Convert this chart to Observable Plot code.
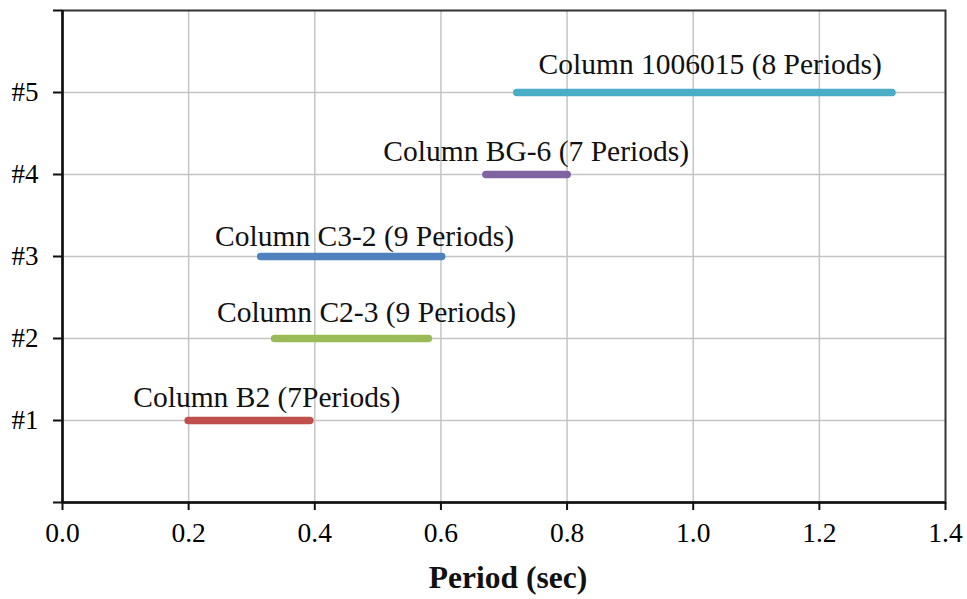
<!DOCTYPE html>
<html>
<head>
<meta charset="utf-8">
<script src="https://cdn.jsdelivr.net/npm/d3@7"></script>
<script src="https://cdn.jsdelivr.net/npm/@observablehq/plot@0.6"></script>
<style>
  html, body { margin: 0; padding: 0; background: #fff; }
  #chart svg { font-family: "Liberation Serif", "DejaVu Serif", serif; }
</style>
</head>
<body>
<div id="chart"></div>
<script>
// Data
const columnNames = [
  "Column B2 (7Periods)",
  "Column C2-3 (9 Periods)",
  "Column C3-2 (9 Periods)",
  "Column BG-6 (7 Periods)",
  "Column 1006015 (8 Periods)"
];
const levels = [1, 2, 3, 4, 5];
const periodStart = [0.200, 0.337, 0.315, 0.672, 0.721];
const periodEnd = [0.393, 0.581, 0.602, 0.801, 1.316];
const labelCenter = [0.324, 0.482, 0.479, 0.751, 1.027];
const labelLevel = [1.16, 2.20, 3.13, 4.16, 5.22];
const levelLabels = ["#1", "#2", "#3", "#4", "#5"];
const xTicks = [0, 0.2, 0.4, 0.6, 0.8, 1.0, 1.2, 1.4];
const yTicks = [0, 1, 2, 3, 4, 5, 6];
const seriesColors = ["#C0504D", "#9BBB59", "#4F81BD", "#8064A2", "#4BACC6"];
const xTitle = "Period (sec)";

const data = columnNames.map((name, i) => ({
  name,
  level: levels[i],
  start: periodStart[i],
  end: periodEnd[i],
  labelX: labelCenter[i],
  labelY: labelLevel[i]
}));

const chart = Plot.plot({
  width: 967,
  height: 599,
  marginLeft: 62,
  marginRight: 22,
  marginTop: 10,
  marginBottom: 97,
  x: {domain: [0, 1.4]},
  y: {domain: [0, 6]},
  color: {domain: columnNames, range: seriesColors},
  marks: [
    Plot.gridX(xTicks.filter(t => t > 0 && t < 1.4), {stroke: "#c4c4c4", strokeOpacity: 1, strokeWidth: 1.5}),
    Plot.gridY(yTicks.filter(t => t > 0 && t < 6), {stroke: "#c4c4c4", strokeOpacity: 1, strokeWidth: 1.5}),
    Plot.frame({stroke: "#333", strokeWidth: 2}),
    Plot.ruleX([0], {stroke: "#111", strokeWidth: 2.5}),
    Plot.ruleY([0], {stroke: "#111", strokeWidth: 2.5}),
    Plot.axisX({
      ticks: xTicks,
      tickFormat: d3.format(".1f"),
      tickSize: 8,
      tickPadding: 12,
      fontSize: 27.5,
      stroke: "#111",
      strokeWidth: 2,
      label: null
    }),
    Plot.axisY({
      ticks: yTicks,
      tickFormat: d => (d >= 1 && d <= 5) ? levelLabels[d - 1] : "",
      tickSize: 9,
      tickPadding: 15,
      fontSize: 27,
      stroke: "#111",
      strokeWidth: 2,
      label: null
    }),
    Plot.ruleY(data, {
      y: "level",
      x1: "start",
      x2: "end",
      stroke: "name",
      strokeWidth: 7.5,
      strokeLinecap: "round"
    }),
    Plot.text(data, {
      x: "labelX",
      y: "labelY",
      text: "name",
      lineAnchor: "bottom",
      fontSize: 29.5,
      fill: "#111"
    }),
    Plot.text([xTitle], {
      text: d => d,
      frameAnchor: "bottom",
      lineAnchor: "bottom",
      dy: 85,
      dx: 4,
      fontSize: 31.5,
      fontWeight: "bold",
      fill: "#111"
    })
  ]
});

document.getElementById("chart").append(chart);
</script>
</body>
</html>
